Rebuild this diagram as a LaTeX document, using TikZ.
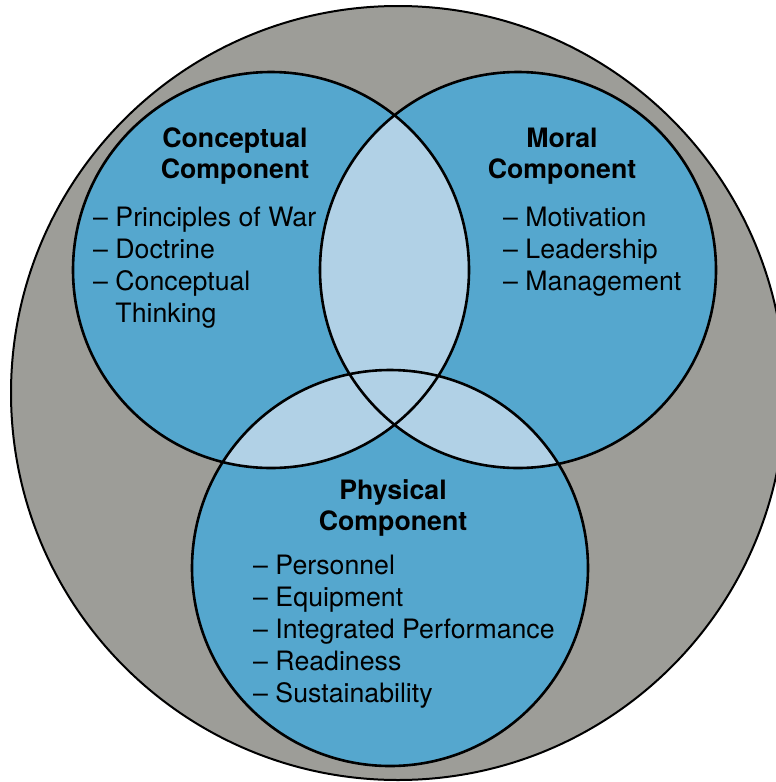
\documentclass[tikz,border=0pt]{standalone}
\usepackage{fontspec}
\setmainfont{TeX Gyre Heros}
\definecolor{outergray}{HTML}{9D9D98}
\definecolor{setblue}{HTML}{55A7CE}
\definecolor{overlapblue}{HTML}{B1D1E6}
\begin{document}
\begin{tikzpicture}[x=1pt,y=-1pt,
    ring/.style={draw=black,line width=2.6pt},
    title/.style={font=\fontsize{26.7}{31}\selectfont\bfseries,align=center,anchor=base,inner sep=0pt},
    items/.style={font=\fontsize{26.7}{32}\selectfont,align=left,anchor=base west,inner sep=0pt}]
\useasboundingbox (0,0) rectangle (776,782);
\coordinate (outer) at (398,393);
\coordinate (concept) at (271,270);
\coordinate (moral) at (518,270);
\coordinate (phys) at (390,568);
\def\rset{198pt}
\begin{scope}
  \clip (0,0) rectangle (776,782);
  % surrounding disc
  \fill[outergray] (outer) circle[radius=387pt];
  \draw[line width=2pt] (outer) circle[radius=387pt];
  % the three component sets
  \fill[setblue] (concept) circle[radius=\rset];
  \fill[setblue] (moral) circle[radius=\rset];
  \fill[setblue] (phys) circle[radius=\rset];
  % pairwise overlaps
  \begin{scope}
    \clip (concept) circle[radius=\rset];
    \fill[overlapblue] (moral) circle[radius=\rset];
    \fill[overlapblue] (phys) circle[radius=\rset];
  \end{scope}
  \begin{scope}
    \clip (moral) circle[radius=\rset];
    \fill[overlapblue] (phys) circle[radius=\rset];
  \end{scope}
  \draw[ring] (concept) circle[radius=\rset];
  \draw[ring] (moral) circle[radius=\rset];
  \draw[ring] (phys) circle[radius=\rset];
\end{scope}
% labels (each anchored at the baseline of its last line)
\node[title] (ctitle) at (235,178) {Conceptual\\Component};
\node[items] (clist) at (93,322) {– Principles of War\\– Doctrine\\– Conceptual\\\hphantom{– }Thinking};
\node[title] (mtitle) at (562,178) {Moral\\Component};
\node[items] (mlist) at (503,290) {– Motivation\\– Leadership\\– Management};
\node[title] (ptitle) at (393,530) {Physical\\Component};
\node[items] (plist) at (253,702) {– Personnel\\– Equipment\\– Integrated Performance\\– Readiness\\– Sustainability};
\end{tikzpicture}
\end{document}
